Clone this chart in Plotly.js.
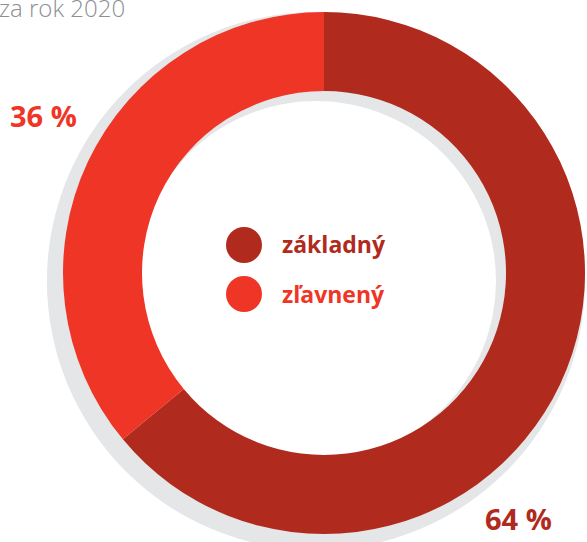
<!DOCTYPE html>
<html>
<head>
<meta charset="utf-8">
<script src="https://cdn.plot.ly/plotly-3.0.1.min.js"></script>
<style>
html,body{margin:0;padding:0;overflow:hidden;background:#fff;width:587px;height:542px;}
#chart{width:587px;height:560px;}
</style>
</head>
<body>
<div id="chart"></div>
<script>
// ---- data ----
var categories = ["základný", "zľavnený"];
var values = [64, 36];
var valueLabels = ["64 %", "36 %"];
var sliceColors = ["#B02B1D", "#EF3526"];
var chartTitle = "za rok 2020";

// ---- layout helpers ----
var W = 587, H = 560;
function px(x){ return x / W; }
function py(y){ return (H - y) / H; }

var cx = 324, cy = 273, R = 261, ri = 182;
var sdx = -8, sdy = 8, sR = 269, sri = 180;

var shadow = {
  type: "pie",
  values: [1],
  labels: ["shadow"],
  marker: {colors: ["#E5E6E8"], line: {width: 0}},
  hole: sri / sR,
  textinfo: "none",
  hoverinfo: "skip",
  showlegend: false,
  sort: false,
  domain: {x: [px(cx + sdx - sR), px(cx + sdx + sR)], y: [py(cy + sdy + sR), py(cy + sdy - sR)]}
};

var donut = {
  type: "pie",
  values: values,
  labels: categories,
  marker: {colors: sliceColors, line: {width: 0}},
  hole: ri / R,
  direction: "clockwise",
  rotation: 0,
  sort: false,
  textinfo: "none",
  hoverinfo: "label+percent",
  showlegend: false,
  domain: {x: [px(cx - R), px(cx + R)], y: [py(cy + R), py(cy - R)]}
};

var font = "'Open Sans', 'Noto Sans', sans-serif";
var annotations = [
  {text: chartTitle, x: px(-3), y: py(8), xref: "paper", yref: "paper", xanchor: "left", yanchor: "middle",
   showarrow: false, font: {family: font, size: 24, color: "#8C9095", weight: 300}},
  {text: "<b>" + valueLabels[1] + "</b>", x: px(8), y: py(115), xref: "paper", yref: "paper", xanchor: "left", yanchor: "middle",
   showarrow: false, font: {family: font, size: 29, color: sliceColors[1]}},
  {text: "<b>" + valueLabels[0] + "</b>", x: px(483), y: py(518), xref: "paper", yref: "paper", xanchor: "left", yanchor: "middle",
   showarrow: false, font: {family: font, size: 29, color: sliceColors[0]}},
  {text: "<b>" + categories[0] + "</b>", x: px(280), y: py(244), xref: "paper", yref: "paper", xanchor: "left", yanchor: "middle",
   showarrow: false, font: {family: font, size: 23, color: sliceColors[0]}},
  {text: "<b>" + categories[1] + "</b>", x: px(280), y: py(294), xref: "paper", yref: "paper", xanchor: "left", yanchor: "middle",
   showarrow: false, font: {family: font, size: 23, color: sliceColors[1]}}
];

var shapes = [
  {type: "circle", xref: "paper", yref: "paper", x0: px(226), x1: px(262), y0: py(263), y1: py(227),
   fillcolor: sliceColors[0], line: {width: 0}},
  {type: "circle", xref: "paper", yref: "paper", x0: px(226), x1: px(262), y0: py(312), y1: py(276),
   fillcolor: sliceColors[1], line: {width: 0}}
];

var layout = {
  width: W, height: H,
  margin: {l: 0, r: 0, t: 0, b: 0, pad: 0},
  paper_bgcolor: "#ffffff",
  plot_bgcolor: "#ffffff",
  showlegend: false,
  annotations: annotations,
  shapes: shapes
};

Plotly.newPlot("chart", [shadow, donut], layout, {displayModeBar: false, staticPlot: true});
</script>
</body>
</html>
